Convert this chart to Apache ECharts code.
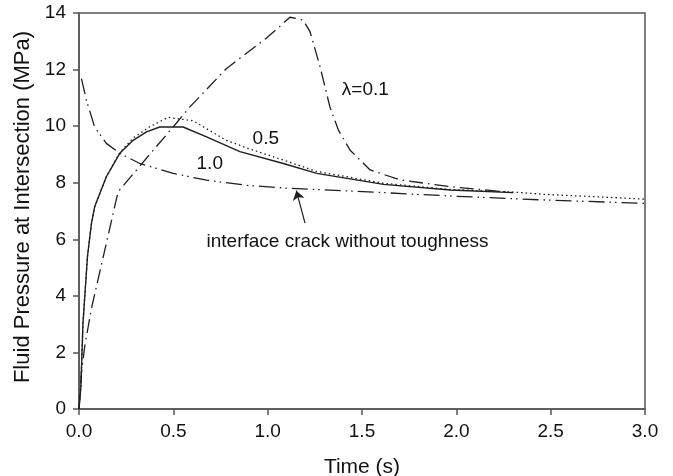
<!DOCTYPE html>
<html>
<head>
<meta charset="utf-8">
<script src="https://cdn.jsdelivr.net/npm/echarts@6/dist/echarts.min.js"></script>
<style>
  html, body { margin: 0; padding: 0; background: #fff; }
  #chart { width: 673px; height: 476px; }
</style>
</head>
<body>
<div id="chart"></div>
<script>
// Fluid pressure at the intersection vs. time for three toughness ratios
const tLambda01 = [0, 0.013, 0.03, 0.066, 0.145, 0.207, 0.305, 0.40, 0.499, 0.588, 0.782, 0.989, 1.06, 1.118, 1.16, 1.189, 1.225, 1.278, 1.33, 1.375, 1.437, 1.543, 1.702, 1.968, 2.30];
const pLambda01 = [0, 1.28, 2.2, 3.56, 5.86, 7.68, 8.45, 9.2, 9.97, 10.68, 12.04, 13.09, 13.5, 13.85, 13.8, 13.74, 13.33, 12.09, 10.68, 9.86, 9.15, 8.45, 8.1, 7.86, 7.65];

const tLambda05 = [0, 0.01, 0.021, 0.045, 0.066, 0.083, 0.145, 0.216, 0.287, 0.375, 0.472, 0.605, 0.78, 0.906, 1.083, 1.26, 1.614, 1.968, 2.30, 2.463, 2.75, 3.0];
const pLambda05 = [0, 0.8, 3.03, 5.4, 6.56, 7.15, 8.21, 9.06, 9.58, 9.98, 10.31, 10.19, 9.5, 9.19, 8.8, 8.4, 7.98, 7.76, 7.67, 7.59, 7.5, 7.42];

const tLambda10 = [0, 0.01, 0.021, 0.045, 0.066, 0.083, 0.145, 0.216, 0.287, 0.358, 0.428, 0.552, 0.676, 0.853, 1.083, 1.26, 1.614, 1.968, 2.30];
const pLambda10 = [0, 0.8, 3.03, 5.4, 6.56, 7.15, 8.21, 9.04, 9.5, 9.8, 9.97, 9.97, 9.62, 9.1, 8.68, 8.33, 7.94, 7.74, 7.65];

const tInterface = [0.013, 0.039, 0.083, 0.145, 0.216, 0.322, 0.499, 0.676, 0.888, 1.118, 1.614, 1.968, 2.463, 3.0];
const pInterface = [11.68, 10.92, 9.97, 9.39, 9.04, 8.68, 8.33, 8.09, 7.91, 7.8, 7.65, 7.53, 7.39, 7.27];

const xTicks = [0, 0.5, 1.0, 1.5, 2.0, 2.5, 3.0];
const yTicks = [0, 2, 4, 6, 8, 10, 12, 14];

const curveLabels = ['λ=0.1', '0.5', '1.0', 'interface crack without toughness'];

const pair = (ts, ps) => ts.map((t, i) => [t, ps[i]]);

const INK = '#1e1e1e';
const AXIS = '#555555';
const TEXT = '#111111';
const FONT = 'Liberation Sans, Arial, sans-serif';

// text anchors (data coordinates) for the curve labels
const labelAnchors = [[1.393, 11.27], [0.92, 9.57], [0.623, 8.68], [0.676, 5.92]];

const chart = echarts.init(document.getElementById('chart'), null, { renderer: 'canvas' });

const curve = (name, data, type, width) => ({
  name, type: 'line', data, showSymbol: false, symbol: 'none', smooth: false,
  lineStyle: { color: INK, width, type }, z: 3, animation: false
});

chart.setOption({
  animation: false,
  backgroundColor: '#ffffff',
  grid: {
    left: 79, right: 28, top: 13, bottom: 67,
    containLabel: false, outerBoundsMode: 'none',
    show: true, borderColor: AXIS, borderWidth: 1.5
  },
  xAxis: {
    type: 'value', min: xTicks[0], max: xTicks[xTicks.length - 1], interval: 0.5,
    name: 'Time (s)', nameLocation: 'middle', nameGap: 48,
    nameTextStyle: { fontFamily: FONT, fontSize: 21, color: TEXT },
    axisLine: { lineStyle: { color: AXIS, width: 1.5 } },
    axisTick: { show: true, inside: false, length: 6, lineStyle: { color: AXIS, width: 1.5 } },
    axisLabel: { margin: 13, fontFamily: FONT, fontSize: 19, color: TEXT, formatter: v => v.toFixed(1) },
    splitLine: { show: false }
  },
  yAxis: {
    type: 'value', min: yTicks[0], max: yTicks[yTicks.length - 1], interval: 2,
    name: 'Fluid Pressure at Intersection (MPa)', nameLocation: 'middle', nameGap: 41,
    nameTextStyle: { fontFamily: FONT, fontSize: 22, color: TEXT, padding: [0, 0, 0, 8] },
    axisLine: { lineStyle: { color: AXIS, width: 1.5 } },
    axisTick: { show: true, inside: false, length: 6, lineStyle: { color: AXIS, width: 1.5 } },
    axisLabel: { margin: 13, fontFamily: FONT, fontSize: 19, color: TEXT },
    splitLine: { show: false }
  },
  series: [
    curve('λ=0.1', pair(tLambda01, pLambda01), [14, 5, 1.5, 5], 1.3),
    curve('0.5', pair(tLambda05, pLambda05), [1.5, 3], 1.3),
    curve('1.0', pair(tLambda10, pLambda10), 'solid', 1.4),
    curve('interface', pair(tInterface, pInterface), [16, 5, 1.5, 4, 1.5, 5], 1.3),
    {
      // pointer from the caption to the interface-crack curve
      type: 'lines', coordinateSystem: 'cartesian2d', polyline: false,
      symbol: ['none', 'arrow'], symbolSize: [0, 9],
      lineStyle: { color: INK, width: 1.2, opacity: 1 },
      data: [{ coords: [[1.198, 6.57], [1.152, 7.72]] }],
      z: 4, animation: false
    },
    {
      // curve captions placed at data coordinates
      type: 'custom', silent: true, z: 5,
      data: labelAnchors.map((c, i) => ({ value: c, name: curveLabels[i] })),
      renderItem: (params, api) => {
        const p = api.coord([api.value(0), api.value(1)]);
        return {
          type: 'text', x: p[0], y: p[1],
          style: {
            text: curveLabels[params.dataIndex], fill: TEXT,
            font: '19px ' + FONT, textAlign: 'left', textVerticalAlign: 'middle'
          }
        };
      }
    }
  ]
});
</script>
</body>
</html>
